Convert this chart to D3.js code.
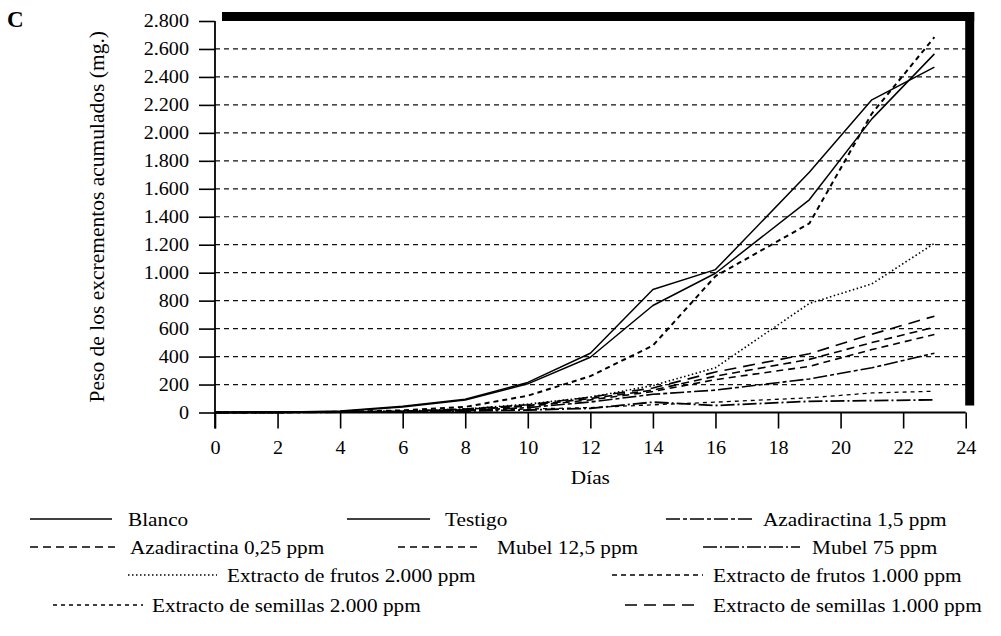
<!DOCTYPE html>
<html><head><meta charset="utf-8">
<script src="https://cdn.jsdelivr.net/npm/d3@7"></script>
<style>
html,body{margin:0;padding:0;background:#fff;}
svg{display:block;font-family:"Liberation Serif","Times New Roman",serif;}
</style></head>
<body><svg id="c" width="1001" height="636"></svg>
<script>
// ---- data ----
const days = [0, 2, 4, 6, 8, 10, 12, 14, 16, 19, 21, 23];
const blanco       = [0, 2, 10, 45, 95, 215, 424, 880, 1022, 1718, 2236, 2470];
const testigo      = [0, 2, 8, 40, 90, 205, 395, 765, 996, 1521, 2100, 2565];
const azad15       = [0, 1, 2, 6, 15, 35, 75, 130, 160, 240, 320, 424];
const azad025      = [0, 1, 3, 8, 22, 50, 100, 160, 260, 380, 500, 610];
const mubel125     = [0, 1, 3, 8, 20, 45, 90, 150, 235, 330, 450, 558];
const mubel75      = [0, 1, 2, 4, 10, 18, 30, 74, 50, 80, 85, 91];
const frutos2000   = [0, 1, 3, 10, 25, 60, 110, 193, 320, 780, 920, 1210];
const frutos1000   = [0, 1, 5, 15, 40, 120, 260, 479, 975, 1352, 2138, 2684];
const semillas2000 = [0, 1, 2, 5, 12, 25, 35, 55, 74, 105, 140, 152];
const semillas1000 = [0, 1, 3, 10, 25, 55, 110, 175, 290, 420, 560, 689];
const seriesNames = ["Blanco","Testigo","Azadiractina 1,5 ppm","Azadiractina 0,25 ppm","Mubel 12,5 ppm","Mubel 75 ppm",
  "Extracto de frutos 2.000 ppm","Extracto de frutos 1.000 ppm","Extracto de semillas 2.000 ppm","Extracto de semillas 1.000 ppm"];
const seriesValues = [blanco,testigo,azad15,azad025,mubel125,mubel75,frutos2000,frutos1000,semillas2000,semillas1000];
const xTicks = [0,2,4,6,8,10,12,14,16,18,20,22,24];
const yTicks = [0,200,400,600,800,1000,1200,1400,1600,1800,2000,2200,2400,2600,2800];
const xTitle = "Días";
const yTitle = "Peso de los excrementos acumulados (mg.)";
const panelLabel = "C";

// ---- styles ----
const styles = [
  {dash:null, w:1.5},
  {dash:null, w:1.5},
  {dash:"14,3,4,3", w:1.6},
  {dash:"8,5", w:1.6},
  {dash:"7,5", w:1.6},
  {dash:"14,3,2,3", w:1.8},
  {dash:"1.5,2.5", w:1.6},
  {dash:"5,4", w:2},
  {dash:"4,4", w:1.3},
  {dash:"12,7", w:1.6}
];
const SX = 1.12; // horizontal stretch of the printed type
// legend layout: [lineStartX, lineEndX, textX, rowY]
const legendLayout = [
  [30,112,128,519],[347,430,445,519],[666,752,763,519],
  [30,115,130,547],[398,482,497,547],[703,800,812,547],
  [128,217,227,575],[612,703,713,575],
  [53,143,152,605],[625,700,713,605]
];

const svg = d3.select("#c");
const x = d3.scaleLinear().domain([0,24]).range([215,965.7]);
const y = d3.scaleLinear().domain([0,2800]).range([412.5,21]);
const loc = d3.formatLocale({decimal:",", thousands:".", grouping:[3], currency:["",""]});
const fmt = loc.format(",");

function stext(g, tx, ty, str, size, anchor){
  return g.append("text").attr("transform",`translate(${tx},${ty}) scale(${SX},1)`)
    .attr("font-size",size).attr("text-anchor",anchor||"start").attr("fill","#000").text(str);
}

// gridlines
svg.append("g").selectAll("line").data(yTicks.filter(d=>d>0 && d<2800)).join("line")
  .attr("x1",x(0)).attr("x2",x(24)).attr("y1",d=>y(d)).attr("y2",d=>y(d))
  .attr("stroke","#111").attr("stroke-width",1.2).attr("stroke-dasharray","5,4");

// frame shadow bars
svg.append("rect").attr("x",x(0)+7).attr("y",y(2800)-9).attr("width",x(24)+8.5-(x(0)+7)).attr("height",9).attr("fill","#000");
svg.append("rect").attr("x",x(24)-0.5).attr("y",y(2800)-9).attr("width",9).attr("height",y(50)-(y(2800)-9)).attr("fill","#000");

// axes
const ya = svg.append("g").attr("transform",`translate(${x(0)},0)`)
  .call(d3.axisLeft(y).tickValues(yTicks).tickFormat(fmt).tickSize(16).tickPadding(10));
const xa = svg.append("g").attr("transform",`translate(0,${y(0)})`)
  .call(d3.axisBottom(x).tickValues(xTicks).tickFormat(d3.format("d")).tickSize(16).tickPadding(13));
[ya,xa].forEach(g=>{
  g.select(".domain").remove();
  g.selectAll(".tick line").attr("stroke","#000").attr("stroke-width",1.6);
  g.selectAll("text").attr("font-family","Liberation Serif, serif").attr("font-size",18).attr("fill","#000");
});
// stretch tick labels horizontally around their anchor
ya.selectAll(".tick text").each(function(){
  const t=d3.select(this); const xx=+t.attr("x");
  t.attr("transform",`translate(${xx},0) scale(${SX},1)`).attr("x",0);
});
xa.selectAll(".tick text").attr("transform",`scale(${SX},1)`);

// axis lines
svg.append("line").attr("x1",x(0)).attr("x2",x(0)).attr("y1",y(2800)).attr("y2",y(0)+16).attr("stroke","#000").attr("stroke-width",1.8);
svg.append("line").attr("x1",x(0)).attr("x2",x(24)).attr("y1",y(0)).attr("y2",y(0)).attr("stroke","#000").attr("stroke-width",1.8);

// series
const line = d3.line().x((d,i)=>x(days[i])).y(d=>y(d));
seriesValues.forEach((vals,k)=>{
  svg.append("path").datum(vals).attr("d",line).attr("fill","none")
    .attr("stroke","#000").attr("stroke-width",styles[k].w)
    .attr("stroke-dasharray",styles[k].dash).attr("stroke-linejoin","round");
});

// titles
stext(svg, (x(0)+x(24))/2, 484, xTitle, 19, "middle");
svg.append("text").attr("transform",`translate(104,${(y(0)+y(2800))/2}) rotate(-90)`)
  .attr("text-anchor","middle").attr("font-size",21.5).text(yTitle);
svg.append("text").attr("x",7).attr("y",27).attr("font-size",23).attr("font-weight","bold").text(panelLabel);

// legend
seriesNames.forEach((name,k)=>{
  const [lx1,lx2,tx,ry] = legendLayout[k];
  svg.append("line").attr("x1",lx1).attr("x2",lx2).attr("y1",ry).attr("y2",ry)
    .attr("stroke","#000").attr("stroke-width",1.3).attr("stroke-dasharray",styles[k].dash);
  stext(svg, tx, ry+7, name, 19);
});
</script></body></html>
